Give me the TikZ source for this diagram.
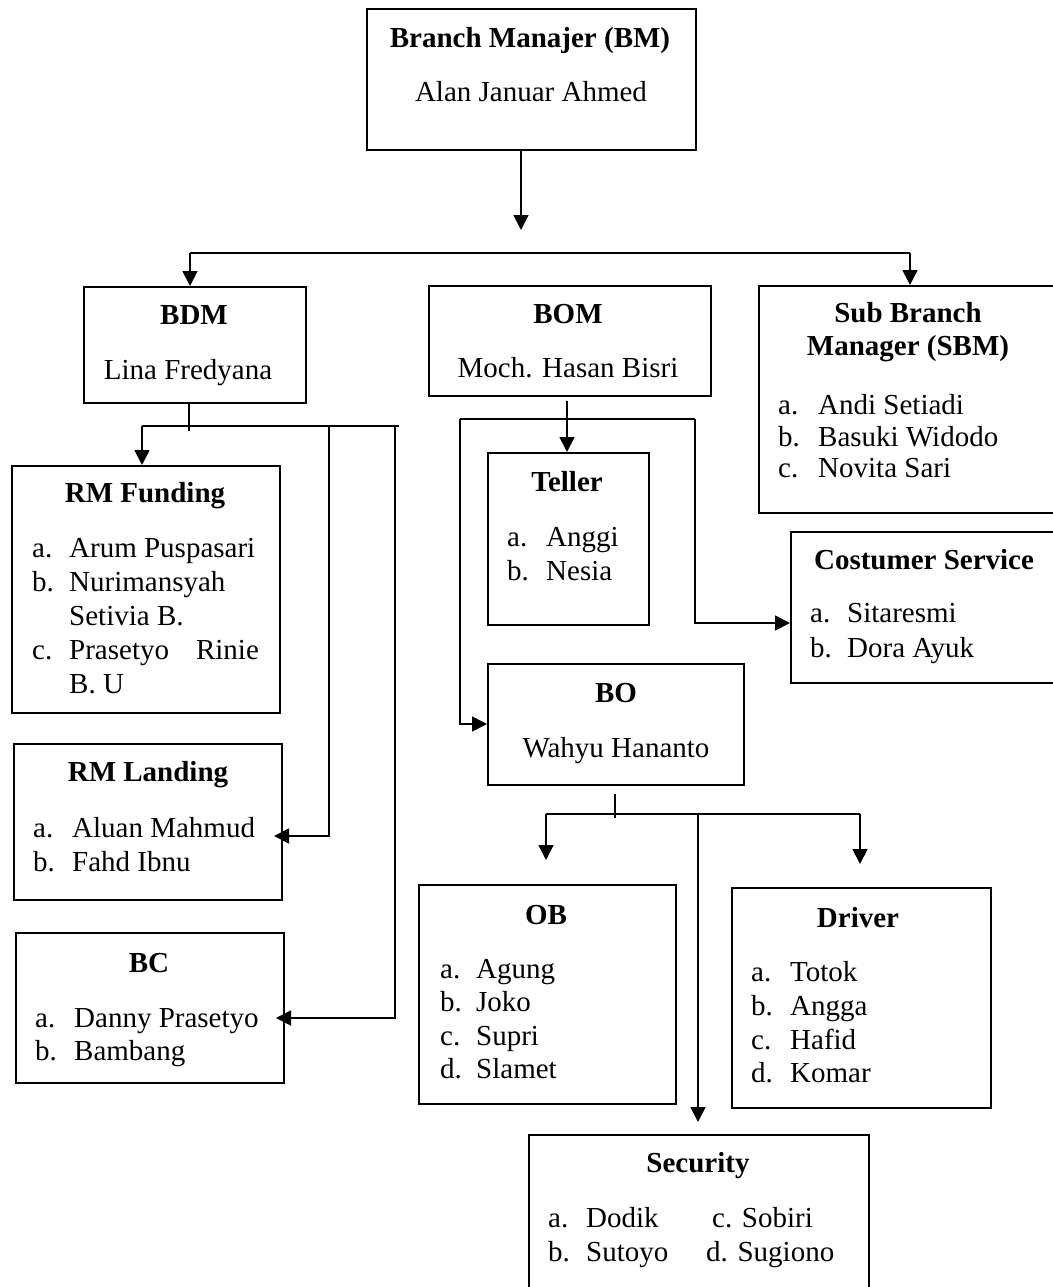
\documentclass[tikz,border=0pt]{standalone}
\usepackage{fontspec}
\setmainfont{Liberation Serif}
\usetikzlibrary{arrows.meta,calc}
\newcommand\lrow[6]{\node[itm] (#1) at (#2,#5) {#3}; \node[itm] (#1n) at (#4,#5) {#6};}
\begin{document}
\begin{tikzpicture}[x=1pt,y=-1pt,
 box/.style={draw, line width=1.8pt, inner sep=0pt, anchor=north west},
 ttl/.style={font=\fontsize{29}{34}\selectfont\bfseries, inner sep=0pt, text height=19pt, text depth=0pt},
 txt/.style={font=\fontsize{29}{34}\selectfont, inner sep=0pt, text height=19pt, text depth=0pt},
 itm/.style={txt, anchor=west},
 conn/.style={line width=1.8pt},
 arr/.style={conn, -{Triangle[width=15pt,length=15pt]}}]
\useasboundingbox (0,0) rectangle (1052,1287);

% boxes
\node[box, minimum width=329pt, minimum height=141pt] (bm) at (366,8) {};
\node[box, minimum width=222pt, minimum height=116pt] (bdm) at (83,286) {};
\node[box, minimum width=282pt, minimum height=110pt] (bom) at (428,285) {};
\node[box, minimum width=310pt, minimum height=227pt] (sbm) at (758,285) {};
\node[box, minimum width=268pt, minimum height=247pt] (rmf) at (11,465) {};
\node[box, minimum width=268pt, minimum height=156pt] (rml) at (13,743) {};
\node[box, minimum width=268pt, minimum height=150pt] (bc) at (15,932) {};
\node[box, minimum width=161pt, minimum height=172pt] (tel) at (487,452) {};
\node[box, minimum width=280pt, minimum height=151pt] (cs) at (790,531) {};
\node[box, minimum width=256pt, minimum height=121pt] (bo) at (487,663) {};
\node[box, minimum width=257pt, minimum height=219pt] (ob) at (418,884) {};
\node[box, minimum width=259pt, minimum height=220pt] (drv) at (731,887) {};
\node[box, minimum width=340pt, minimum height=170pt] (sec) at (528,1134) {};

% texts
\node[ttl] (bmT) at (530,38) {Branch Manajer (BM)};
\node[txt] (bmN) at (531,92) {Alan Januar Ahmed};
\node[ttl] (bdmT) at (194,315) {BDM};
\node[txt] (bdmN) at (188,370) {Lina Fredyana};
\node[ttl] (bomT) at (568,314) {BOM};
\node[txt] (bomN) at (568,368) {Moch. Hasan Bisri};
\node[ttl] (sbmT1) at (908,313) {Sub Branch};
\node[ttl] (sbmT2) at (908,346) {Manager (SBM)};
\lrow{sbmA}{778}{a.}{818}{405}{Andi Setiadi}
\lrow{sbmB}{778}{b.}{818}{437}{Basuki Widodo}
\lrow{sbmC}{778}{c.}{818}{468}{Novita Sari}

\node[ttl] (rmfT) at (145,493) {RM Funding};
\lrow{rmfA}{32}{a.}{69}{548}{Arum Puspasari}
\lrow{rmfB}{32}{b.}{69}{582}{Nurimansyah}
\node[itm] (rmfB2) at (69,616) {Setivia B.};
\lrow{rmfC}{32}{c.}{69}{650}{Prasetyo\hspace{27pt}Rinie}
\node[itm] (rmfC2) at (69,684) {B. U};

\node[ttl] (rmlT) at (148,772) {RM Landing};
\lrow{rmlA}{33}{a.}{72}{828}{Aluan Mahmud}
\lrow{rmlB}{33}{b.}{72}{862}{Fahd Ibnu}

\node[ttl] (bcT) at (149,963) {BC};
\lrow{bcA}{35}{a.}{74}{1018}{Danny Prasetyo}
\lrow{bcB}{35}{b.}{74}{1051}{Bambang}

\node[ttl] (telT) at (567,482) {Teller};
\lrow{telA}{507}{a.}{546}{537}{Anggi}
\lrow{telB}{507}{b.}{546}{571}{Nesia}

\node[ttl] (csT) at (924,560) {Costumer Service};
\lrow{csA}{810}{a.}{847}{613}{Sitaresmi}
\lrow{csB}{810}{b.}{847}{648}{Dora Ayuk}

\node[ttl] (boT) at (616,693) {BO};
\node[txt] (boN) at (616,748) {Wahyu Hananto};

\node[ttl] (obT) at (546,915) {OB};
\lrow{obA}{440}{a.}{476}{969}{Agung}
\lrow{obB}{440}{b.}{476}{1002}{Joko}
\lrow{obC}{440}{c.}{476}{1036}{Supri}
\lrow{obD}{440}{d.}{476}{1069}{Slamet}

\node[ttl] (drvT) at (858,918) {Driver};
\lrow{drvA}{751}{a.}{790}{972}{Totok}
\lrow{drvB}{751}{b.}{790}{1006}{Angga}
\lrow{drvC}{751}{c.}{790}{1040}{Hafid}
\lrow{drvD}{751}{d.}{790}{1073}{Komar}

\node[ttl] (secT) at (698,1163) {Security};
\lrow{secA}{548}{a.}{586}{1218}{Dodik}
\lrow{secB}{548}{b.}{586}{1252}{Sutoyo}
\node[itm] (secC) at (712,1218) {c. Sobiri};
\node[itm] (secD) at (706,1252) {d. Sugiono};

% connectors
\coordinate (bmTip) at (521,230);
\draw[arr] (bm.south -| bmTip) -- (bmTip);
\coordinate (busL) at (190,253);
\coordinate (busR) at (910,253);
\draw[conn] (busL) -- (busR);
\draw[arr] (busL) -- (busL |- bdm.north);
\draw[arr] (busR) -- (busR |- sbm.north);

\coordinate (bdmStub) at (189,431);
\draw[conn] (bdm.south -| bdmStub) -- (bdmStub);
\coordinate (bdmBusL) at (142,426);
\coordinate (bdmBusR) at (399,426);
\draw[conn] (bdmBusL) -- (bdmBusR);
\draw[arr] (bdmBusL) -- (bdmBusL |- rmf.north);
\coordinate (v1) at (329,426);
\coordinate (rmlIn) at (274,836);
\draw[arr] (v1) |- (rmlIn);
\coordinate (v2) at (395,426);
\coordinate (bcIn) at (276,1018);
\draw[arr] (v2) |- (bcIn);

\coordinate (bomStub) at (567,401);
\draw[arr] (bomStub) -- (bomStub |- tel.north);
\coordinate (oL) at (460,419);
\coordinate (oR) at (695,419);
\draw[conn] (oL) -- (oR);
\coordinate (boIn) at (487,724);
\coordinate (csIn) at (790,623);
\draw[arr] (oL) |- (boIn);
\draw[arr] (oR) |- (csIn);

\coordinate (boStub) at (615,818);
\draw[conn] ($(bo.south -| boStub)+(0,8)$) -- (boStub);
\coordinate (boBusL) at (546,814);
\coordinate (boBusR) at (860,814);
\coordinate (boBusM) at (698,814);
\draw[conn] (boBusL) -- (boBusR);
\coordinate (obTip) at (546,860);
\coordinate (drvTip) at (860,864);
\coordinate (secTip) at (698,1122);
\draw[arr] (boBusL) -- (obTip);
\draw[arr] (boBusR) -- (drvTip);
\draw[arr] (boBusM) -- (secTip);
\end{tikzpicture}
\end{document}
